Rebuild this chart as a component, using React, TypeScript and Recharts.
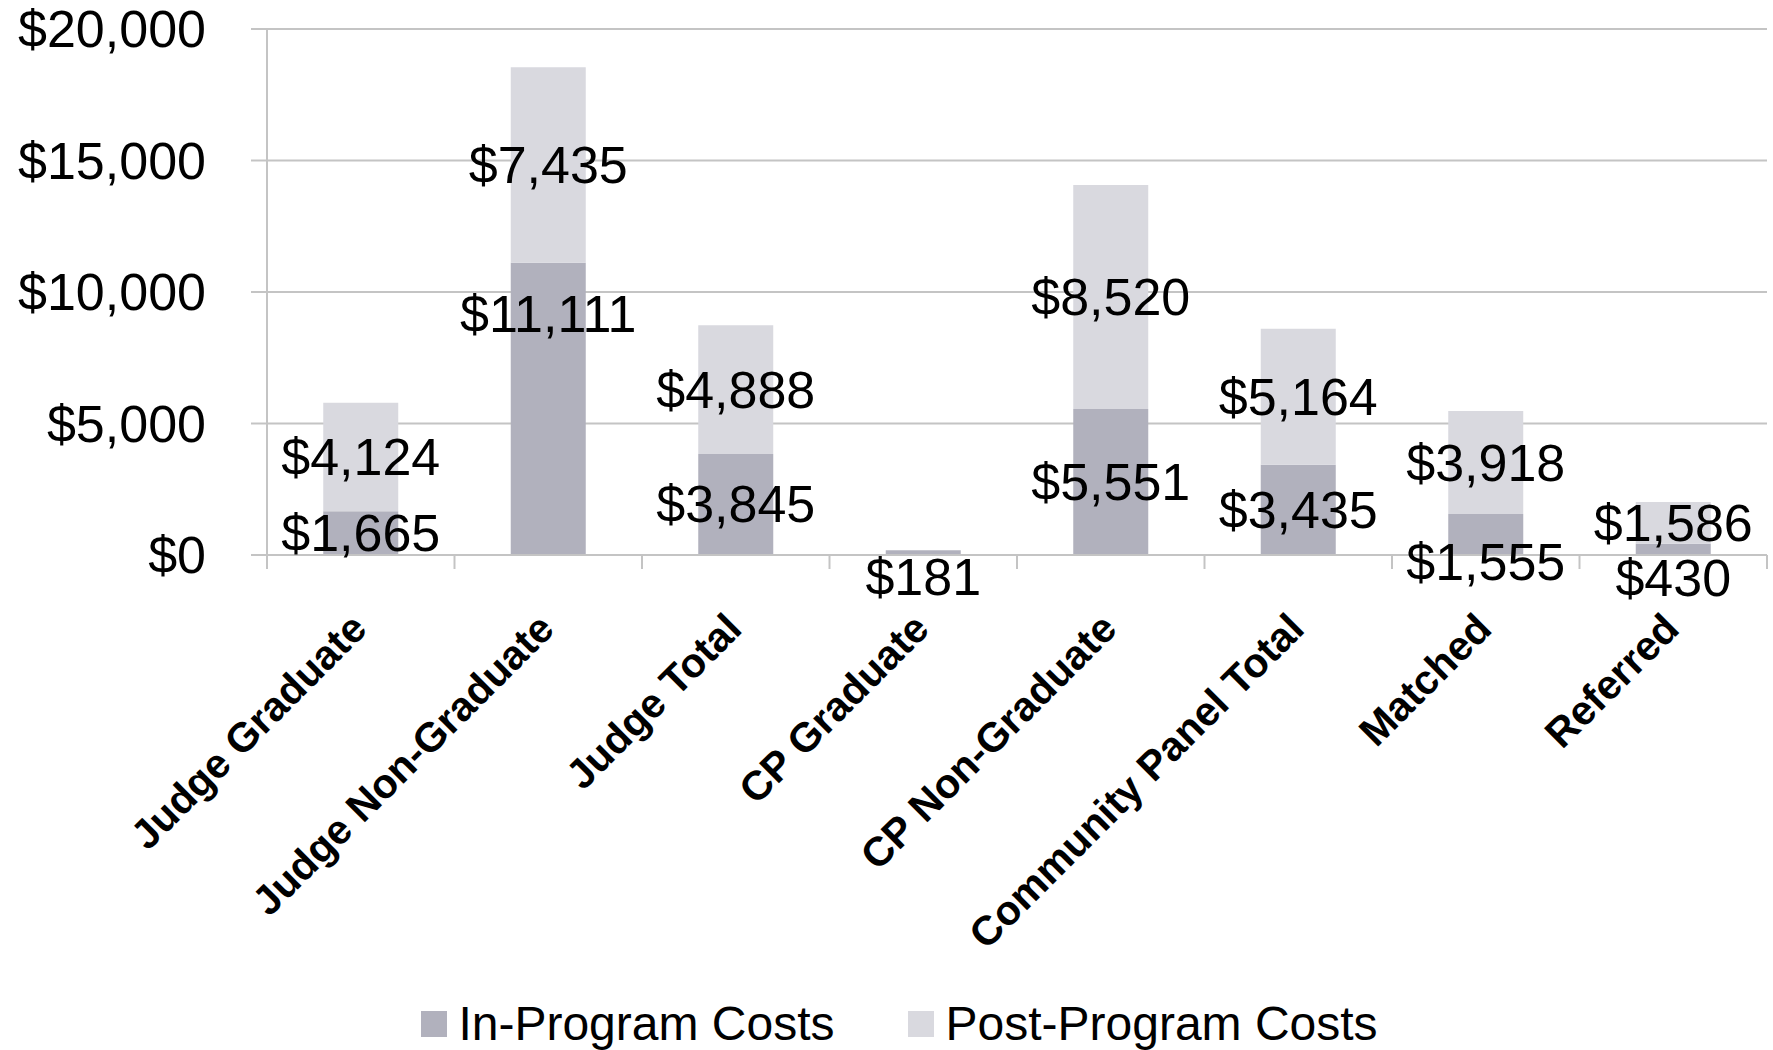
import React from 'react';
import { BarChart, Bar, XAxis, YAxis, CartesianGrid, Legend, LabelList } from 'recharts';

const categories = [
  'Judge Graduate',
  'Judge Non-Graduate',
  'Judge Total',
  'CP Graduate',
  'CP Non-Graduate',
  'Community Panel Total',
  'Matched',
  'Referred',
];
const inProgramCosts = [1665, 11111, 3845, 181, 5551, 3435, 1555, 430];
const postProgramCosts = [4124, 7435, 4888, 0, 8520, 5164, 3918, 1586];
const yTicks = [0, 5000, 10000, 15000, 20000];
const seriesNames = ['In-Program Costs', 'Post-Program Costs'];

const data = categories.map((name, i) => ({
  name,
  inProgram: inProgramCosts[i],
  postProgram: postProgramCosts[i],
}));

const W = 1773;
const H = 1050;
const FONT = '"Liberation Sans", Arial, Helvetica, sans-serif';
const IN_COLOR = '#b1b1bd';
const POST_COLOR = '#d9d9df';
const GRID = '#c4c4c4';
const PLOT_LEFT = 267;
const PLOT_RIGHT = 6;
const PLOT_W = W - PLOT_LEFT - PLOT_RIGHT;
const BAND = PLOT_W / categories.length;

const fmt = (v: number) => '$' + v.toLocaleString('en-US');

const makeLabel = (nudges: Record<number, number>, dxs: Record<number, number>) => (props: any) => {
  const { x, y, width, height, value, index } = props;
  if (!value) return null;
  const cx = Number(x) + Number(width) / 2 + (dxs[index] || 0);
  const cy = Number(y) + Number(height) / 2 + (nudges[index] || 0);
  return (
    <text
      x={cx}
      y={cy}
      textAnchor="middle"
      dominantBaseline="central"
      fontSize={52}
      fontFamily={FONT}
      fill="#000"
    >
      {fmt(Number(value))}
    </text>
  );
};

const inLabel = makeLabel({ 1: -95, 3: 24, 6: 27, 7: 29 }, {});
const postLabel = makeLabel({ 7: -21 }, { 7: 9 });

const XTick = (props: any) => {
  const { x, y, payload, index } = props;
  const ax = x + 8;
  const ay = y + 76;
  const left = x - BAND / 2;
  const right = x + BAND / 2;
  return (
    <g>
      <line x1={left} x2={left} y1={y} y2={y + 14} stroke={GRID} strokeWidth={2} />
      {index === categories.length - 1 && (
        <line x1={right} x2={right} y1={y} y2={y + 14} stroke={GRID} strokeWidth={2} />
      )}
      <text
        x={ax}
        y={ay}
        textAnchor="end"
        fontSize={41}
        fontWeight="bold"
        fontFamily={FONT}
        fill="#000"
        transform={`rotate(-45, ${ax}, ${ay})`}
      >
        {payload.value}
      </text>
    </g>
  );
};

const renderLegend = () => (
  <div
    style={{
      display: 'flex',
      justifyContent: 'center',
      alignItems: 'center',
      paddingLeft: 26,
      fontFamily: FONT,
      fontSize: 48,
      color: '#000',
      lineHeight: '55px',
    }}
  >
    {seriesNames.map((n, i) => (
      <div
        key={n}
        style={{ display: 'flex', alignItems: 'center', marginLeft: i === 0 ? 0 : 74 }}
      >
        <div
          style={{
            width: 26,
            height: 26,
            background: i === 0 ? IN_COLOR : POST_COLOR,
            marginRight: 11,
          }}
        />
        <span>{n}</span>
      </div>
    ))}
  </div>
);

export default function App() {
  return (
    <div style={{ position: 'absolute', left: 0, top: 0, width: W, height: H, background: '#fff' }}>
      <BarChart
        width={W}
        height={H}
        data={data}
        margin={{ top: 29, right: PLOT_RIGHT, left: 0, bottom: 0 }}
        barCategoryGap="30%"
      >
        <CartesianGrid vertical={false} stroke={GRID} strokeWidth={2} />
        <XAxis
          dataKey="name"
          height={440}
          interval={0}
          tickLine={false}
          tickSize={0}
          tickMargin={0}
          axisLine={{ stroke: GRID, strokeWidth: 2 }}
          tick={<XTick />}
        />
        <YAxis
          width={PLOT_LEFT}
          domain={[0, 20000]}
          ticks={yTicks}
          interval={0}
          tickSize={16}
          tickMargin={45}
          tickLine={{ stroke: GRID, strokeWidth: 2 }}
          axisLine={{ stroke: GRID, strokeWidth: 2 }}
          tickFormatter={(v: number) => fmt(v)}
          tick={{ fontSize: 52, fontFamily: FONT, fill: '#000' }}
        />
        <Legend
          verticalAlign="bottom"
          content={renderLegend}
          wrapperStyle={{ left: 0, top: 996, width: W, height: 55 }}
        />
        <Bar dataKey="inProgram" name={seriesNames[0]} stackId="a" fill={IN_COLOR} isAnimationActive={false}>
          <LabelList dataKey="inProgram" content={inLabel} />
        </Bar>
        <Bar dataKey="postProgram" name={seriesNames[1]} stackId="a" fill={POST_COLOR} isAnimationActive={false}>
          <LabelList dataKey="postProgram" content={postLabel} />
        </Bar>
      </BarChart>
    </div>
  );
}
